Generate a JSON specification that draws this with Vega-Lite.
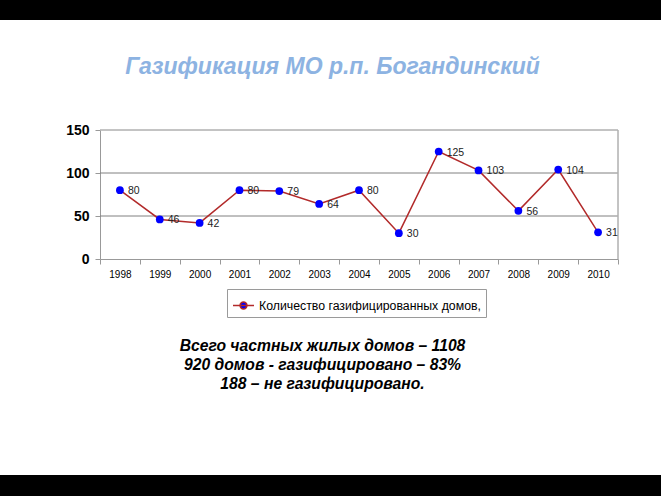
{
  "$schema": "https://vega.github.io/schema/vega-lite/v6.json",
  "width": 661,
  "height": 455,
  "autosize": {"type": "none"},
  "padding": {"left": 0, "right": 0, "top": 20, "bottom": 21},
  "background": "black",
  "config": {"view": {"fill": "white", "stroke": null}, "font": "Liberation Sans"},
  "title": {
    "text": "Газификация МО р.п. Богандинский",
    "fontSize": 23,
    "fontStyle": "italic",
    "fontWeight": "bold",
    "color": "#8db3e2",
    "anchor": "middle",
    "frame": "group",
    "offset": -57,
    "baseline": "alphabetic",
    "dx": 2,
    "dy": 20
  },
  "datasets": {
    "main": [
      {"year": "1998", "value": 80},
      {"year": "1999", "value": 46},
      {"year": "2000", "value": 42},
      {"year": "2001", "value": 80},
      {"year": "2002", "value": 79},
      {"year": "2003", "value": 64},
      {"year": "2004", "value": 80},
      {"year": "2005", "value": 30},
      {"year": "2006", "value": 125},
      {"year": "2007", "value": 103},
      {"year": "2008", "value": 56},
      {"year": "2009", "value": 104},
      {"year": "2010", "value": 31}
    ],
    "grid": [{"g": 50}, {"g": 100}]
  },
  "layer": [
    {
      "data": {"name": "grid"},
      "mark": {"type": "rule", "color": "#808080", "strokeWidth": 1},
      "encoding": {
        "y": {"field": "g", "type": "quantitative", "scale": {"domain": [0, 150], "range": [239, 110], "nice": false}},
        "x": {"datum": "1998", "type": "ordinal", "bandPosition": 0, "scale": {"domain": ["1998", "1999", "2000", "2001", "2002", "2003", "2004", "2005", "2006", "2007", "2008", "2009", "2010"], "range": [100, 618], "paddingInner": 0, "paddingOuter": 0}},
        "x2": {"datum": "2010", "bandPosition": 1}
      }
    },
    {
      "data": {"name": "grid"},
      "mark": {"type": "rule", "color": "#b0b0b0", "strokeWidth": 1},
      "encoding": {
        "y": {"datum": 150, "type": "quantitative"},
        "x": {"datum": "1998", "type": "ordinal", "bandPosition": 0},
        "x2": {"datum": "2010", "bandPosition": 1}
      }
    },
    {
      "data": {"name": "grid"},
      "mark": {"type": "rule", "color": "#b0b0b0", "strokeWidth": 1},
      "encoding": {
        "x": {"datum": "2010", "type": "ordinal", "bandPosition": 1},
        "y": {"datum": 0, "type": "quantitative"},
        "y2": {"datum": 150}
      }
    },
    {
      "data": {"name": "main"},
      "mark": {"type": "line", "strokeWidth": 1.5},
      "encoding": {
        "x": {
          "field": "year",
          "type": "ordinal",
          "sort": null,
          "axis": {
            "orient": "bottom",
            "offset": -216,
            "tickBand": "extent",
            "labelAngle": 0,
            "labelAlign": "center",
            "labelFontSize": 10,
            "labelColor": "#000",
            "labelPadding": 10,
            "tickSize": 5,
            "domainColor": "#999",
            "tickColor": "#999",
            "grid": false,
            "title": ["Всего частных жилых домов – 1108", "920 домов - газифицировано – 83%", "188 – не газифицировано."],
            "titleX": 322,
            "titleY": 91,
            "titleFontSize": 15.7,
            "titleFontStyle": "italic",
            "titleFontWeight": "bold",
            "titleColor": "#000",
            "titleLineHeight": 19,
            "titleBaseline": "alphabetic",
            "titleAlign": "center"
          }
        },
        "y": {
          "field": "value",
          "type": "quantitative",
          "axis": {
            "orient": "left",
            "offset": -100,
            "values": [0, 50, 100, 150],
            "labelFontSize": 14,
            "labelFontWeight": "bold",
            "labelColor": "#000",
            "tickSize": 5,
            "labelPadding": 6,
            "domainColor": "#999",
            "tickColor": "#999",
            "grid": false,
            "title": null
          }
        },
        "color": {
          "datum": "Количество газифицированных домов,",
          "scale": {"range": ["#b22a2a"]},
          "legend": {
            "orient": "none",
            "legendX": 227,
            "legendY": 269,
            "title": null,
            "fillColor": "white",
            "strokeColor": "#9a9a9a",
            "padding": 5,
            "labelFontSize": 12.3,
            "labelColor": "#000",
            "labelOffset": 4,
            "labelLimit": 400,
            "symbolType": "M-1,0H1M-0.33,0A0.33,0.33,0,1,1,0.33,0A0.33,0.33,0,1,1,-0.33,0Z",
            "symbolSize": 441,
            "symbolStrokeWidth": 1.5,
            "encode": {"symbols": {"update": {"fill": {"value": "#0000ff"}, "stroke": {"value": "#b22a2a"}}}}
          }
        }
      }
    },
    {
      "data": {"name": "main"},
      "mark": {"type": "point", "filled": true, "color": "#0000ff", "size": 60, "opacity": 1},
      "encoding": {
        "x": {"field": "year", "type": "ordinal", "sort": null},
        "y": {"field": "value", "type": "quantitative"}
      }
    },
    {
      "data": {"name": "main"},
      "mark": {"type": "text", "align": "left", "baseline": "middle", "dx": 8, "dy": 1, "fontSize": 10.5, "color": "#222"},
      "encoding": {
        "x": {"field": "year", "type": "ordinal", "sort": null},
        "y": {"field": "value", "type": "quantitative"},
        "text": {"field": "value", "type": "quantitative"}
      }
    }
  ]
}
